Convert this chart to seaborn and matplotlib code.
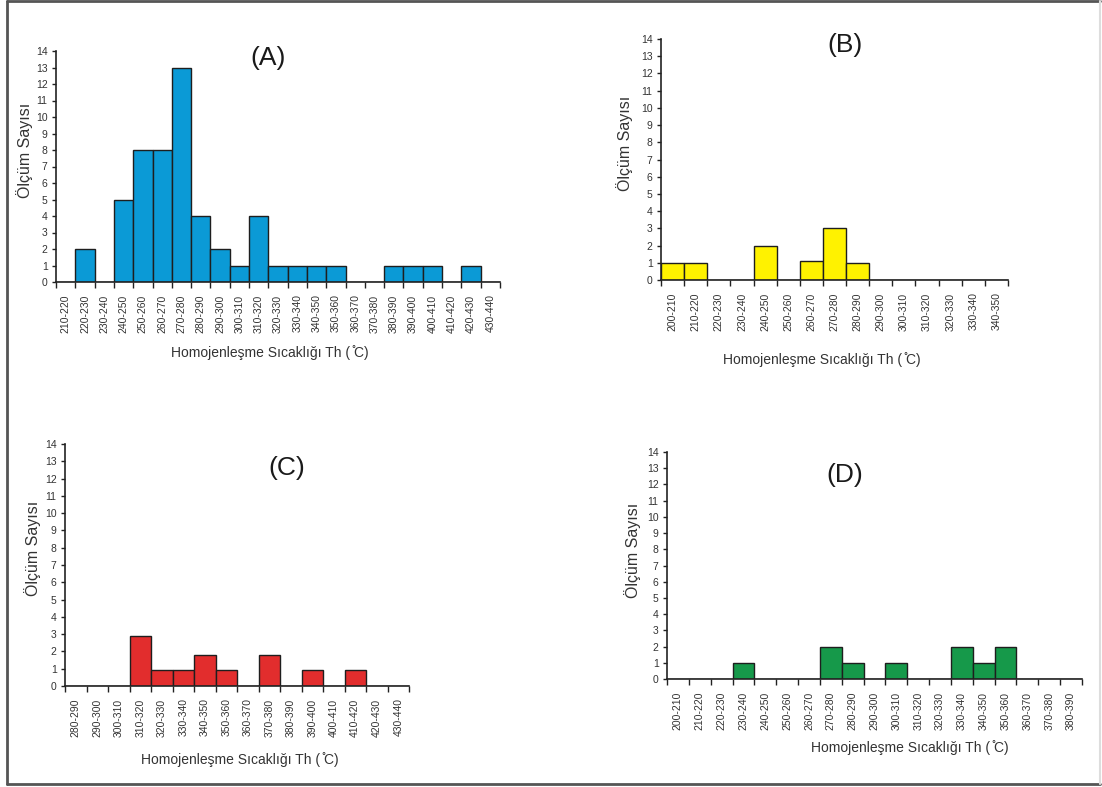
import matplotlib
matplotlib.use("Agg")
import matplotlib.pyplot as plt
import seaborn as sns
import pandas as pd
from matplotlib.lines import Line2D

sns.set_theme(style="white")
plt.rcParams['font.family'] = ['Liberation Sans', 'DejaVu Sans']

# ---------------- data ----------------
cats_a = ["210-220", "220-230", "230-240", "240-250", "250-260", "260-270", "270-280",
          "280-290", "290-300", "300-310", "310-320", "320-330", "330-340", "340-350",
          "350-360", "360-370", "370-380", "380-390", "390-400", "400-410", "410-420",
          "420-430", "430-440"]
vals_a = [0, 2, 0, 5, 8, 8, 13, 4, 2, 1, 4, 1, 1, 1, 1, 0, 0, 1, 1, 1, 0, 1, 0]

cats_b = ["200-210", "210-220", "220-230", "230-240", "240-250", "250-260", "260-270",
          "270-280", "280-290", "290-300", "300-310", "310-320", "320-330", "330-340",
          "340-350"]
vals_b = [1, 1, 0, 0, 2, 0, 1.1, 3.0, 1, 0, 0, 0, 0, 0, 0]

cats_c = ["280-290", "290-300", "300-310", "310-320", "320-330", "330-340", "340-350",
          "350-360", "360-370", "370-380", "380-390", "390-400", "400-410", "410-420",
          "420-430", "430-440"]
vals_c = [0, 0, 0, 2.9, 0.9, 0.9, 1.8, 0.95, 0, 1.8, 0, 0.9, 0, 0.9, 0, 0]

cats_d = ["200-210", "210-220", "220-230", "230-240", "240-250", "250-260", "260-270",
          "270-280", "280-290", "290-300", "300-310", "310-320", "320-330", "330-340",
          "340-350", "350-360", "360-370", "370-380", "380-390"]
vals_d = [0, 0, 0, 1, 0, 0, 0, 2, 1, 0, 1, 0, 0, 2, 1, 2, 0, 0, 0]

panel_titles = ["(A)", "(B)", "(C)", "(D)"]
x_label = "Homojenleşme Sıcaklığı Th ( ̊C)"
y_label = "Ölçüm Sayısı"
y_ticks = list(range(0, 15))

colors = ["#0b9ad6", "#fff200", "#e22d2d", "#16994a"]

# ---------------- layout (pixels) ----------------
W, H = 1102, 787
fig = plt.figure(figsize=(W / 100, H / 100), dpi=100)
fig.patch.set_facecolor("white")

def rect(x0, x1, ytop, ybot):
    return [x0 / W, 1 - ybot / H, (x1 - x0) / W, (ybot - ytop) / H]

panels = [
    dict(cats=cats_a, vals=vals_a, rect=rect(56, 500, 51, 282),
         title_xy=(268, 58), ylab_xy=(25, 150), xlab_xy=(270, 353)),
    dict(cats=cats_b, vals=vals_b, rect=rect(661, 1008, 39, 280),
         title_xy=(845, 45), ylab_xy=(625, 143), xlab_xy=(822, 360)),
    dict(cats=cats_c, vals=vals_c, rect=rect(65, 409, 444, 686),
         title_xy=(287, 468), ylab_xy=(33, 548), xlab_xy=(240, 760)),
    dict(cats=cats_d, vals=vals_d, rect=rect(667, 1082, 452, 679),
         title_xy=(845, 475), ylab_xy=(633, 550), xlab_xy=(910, 748)),
]

txt_color = "#333333"

for p, title, col in zip(panels, panel_titles, colors):
    ax = fig.add_axes(p["rect"])
    df = pd.DataFrame({"cat": p["cats"], "val": p["vals"]})
    sns.barplot(data=df, x="cat", y="val", ax=ax, color=col, saturation=1,
                width=1.0, edgecolor="#1e1e1e", linewidth=1.0, zorder=2)
    n = len(p["cats"])
    ax.set_xlim(-0.5, n - 0.5)
    ax.set_ylim(0, 14)
    ax.set_yticks(y_ticks)
    ax.set_yticklabels([str(t) for t in y_ticks], fontsize=7.5, color=txt_color)
    ax.set_xticks(range(n))
    ax.set_xticklabels(p["cats"], rotation=90, fontsize=7.5, color=txt_color)
    ax.set_xticks([i - 0.5 for i in range(n + 1)], minor=True)
    ax.tick_params(axis="x", which="major", length=0, pad=9)
    ax.tick_params(axis="x", which="minor", length=4, width=1, color="#222222",
                   direction="out", bottom=True)
    ax.tick_params(axis="y", which="major", length=3, width=1, color="#222222",
                   direction="out", left=True, pad=3)
    for s in ["top", "right"]:
        ax.spines[s].set_visible(False)
    for s in ["left", "bottom"]:
        ax.spines[s].set_color("#222222")
        ax.spines[s].set_linewidth(1.2)
    ax.set_xlabel("")
    ax.set_ylabel("")
    ax.patch.set_alpha(0)

    tx, ty = p["title_xy"]
    fig.text(tx / W, 1 - ty / H, title, fontsize=19, ha="center", va="center",
             color="#1a1a1a")
    yx, yy = p["ylab_xy"]
    fig.text(yx / W, 1 - yy / H, y_label, fontsize=11.5, rotation=90,
             ha="center", va="center", color=txt_color)
    xx, xy = p["xlab_xy"]
    fig.text(xx / W, 1 - xy / H, x_label, fontsize=10, ha="center", va="center",
             color=txt_color)

# outer frame
frame_kw = dict(transform=fig.transFigure, color="#555555", linewidth=2)
fig.add_artist(Line2D([7 / W, 7 / W], [1 - 1 / H, 1 - 784 / H], **frame_kw))
fig.add_artist(Line2D([7 / W, 1100 / W], [1 - 1 / H, 1 - 1 / H], **frame_kw))
fig.add_artist(Line2D([7 / W, 1100 / W], [1 - 784 / H, 1 - 784 / H], **frame_kw))
fig.add_artist(Line2D([1100 / W, 1100 / W], [1 - 1 / H, 1 - 784 / H],
                      transform=fig.transFigure, color="#dddddd", linewidth=1.5))

fig.savefig("out.png", dpi=100, facecolor="white")
